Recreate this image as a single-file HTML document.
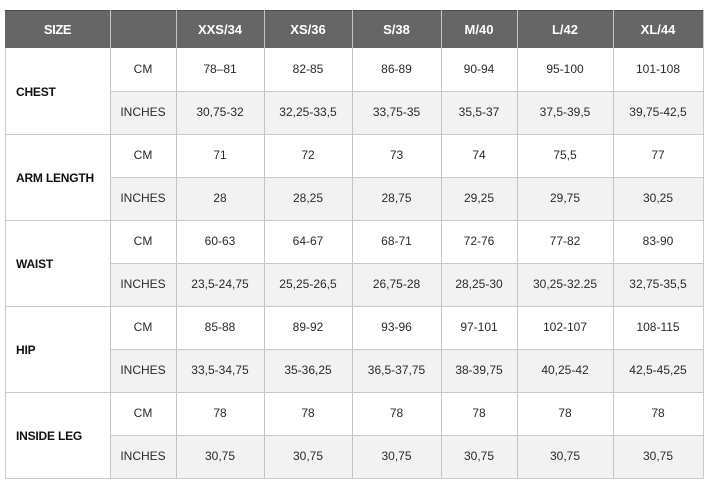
<!DOCTYPE html>
<html><head><meta charset="utf-8">
<style>
html,body{margin:0;padding:0;background:#fff;}
body{width:715px;height:487px;position:relative;overflow:hidden;font-family:"Liberation Sans",sans-serif;}
.hd{position:absolute;left:5px;top:10px;width:698px;height:38px;background:#666;border-top:1px solid #4a4a4a;box-sizing:border-box;}
.gray{position:absolute;left:110px;width:593px;height:43px;background:#f2f2f2;}
.vl{position:absolute;width:1px;background:#cacaca;}
.hl{position:absolute;height:1px;background:#cacaca;}
.ht{position:absolute;top:10px;height:38px;line-height:40px;text-align:center;color:#fff;font-weight:bold;font-size:13px;}
.c{position:absolute;height:43px;line-height:43px;text-align:center;color:#2a2a2a;font-size:12px;}
.lab{position:absolute;left:16px;font-weight:bold;font-size:12px;color:#111;line-height:16px;letter-spacing:-0.2px;}
</style></head><body>
<div class="hd"></div>
<div class="gray" style="top:92px"></div>
<div class="gray" style="top:178px"></div>
<div class="gray" style="top:264px"></div>
<div class="gray" style="top:350px"></div>
<div class="gray" style="top:436px"></div>

<!-- vertical lines -->
<div class="vl" style="left:5px;top:48px;height:431px"></div>
<div class="vl" style="left:110px;top:10px;height:469px;background:#c4c4c4"></div>
<div class="vl" style="left:176px;top:10px;height:469px;background:#c4c4c4"></div>
<div class="vl" style="left:264px;top:10px;height:469px;background:#c4c4c4"></div>
<div class="vl" style="left:352px;top:10px;height:469px;background:#c4c4c4"></div>
<div class="vl" style="left:441px;top:10px;height:469px;background:#c4c4c4"></div>
<div class="vl" style="left:517px;top:10px;height:469px;background:#c4c4c4"></div>
<div class="vl" style="left:613px;top:10px;height:469px;background:#c4c4c4"></div>
<div class="vl" style="left:703px;top:10px;height:469px"></div>

<!-- horizontal lines -->
<div class="hl" style="left:110px;width:594px;top:91px"></div>
<div class="hl" style="left:5px;width:699px;top:134px"></div>
<div class="hl" style="left:110px;width:594px;top:177px"></div>
<div class="hl" style="left:5px;width:699px;top:220px"></div>
<div class="hl" style="left:110px;width:594px;top:263px"></div>
<div class="hl" style="left:5px;width:699px;top:306px"></div>
<div class="hl" style="left:110px;width:594px;top:349px"></div>
<div class="hl" style="left:5px;width:699px;top:392px"></div>
<div class="hl" style="left:110px;width:594px;top:435px"></div>
<div class="hl" style="left:5px;width:699px;top:478px"></div>

<!-- header text -->
<div class="ht" style="left:5px;width:105px;letter-spacing:-0.4px">SIZE</div>
<div class="ht" style="left:176px;width:88px">XXS/34</div>
<div class="ht" style="left:264px;width:88px">XS/36</div>
<div class="ht" style="left:352px;width:89px">S/38</div>
<div class="ht" style="left:441px;width:76px">M/40</div>
<div class="ht" style="left:517px;width:96px">L/42</div>
<div class="ht" style="left:613px;width:90px">XL/44</div>

<!-- labels -->
<div class="lab" style="top:84px">CHEST</div>
<div class="lab" style="top:170px">ARM LENGTH</div>
<div class="lab" style="top:256px">WAIST</div>
<div class="lab" style="top:342px">HIP</div>
<div class="lab" style="top:428px">INSIDE LEG</div>

<!-- rows -->
<div style="position:absolute;left:0;top:48px;width:715px;height:43px">
<div class="c" style="left:110px;width:66px">CM</div>
<div class="c" style="left:176px;width:88px">78–81</div>
<div class="c" style="left:264px;width:88px">82-85</div>
<div class="c" style="left:352px;width:89px">86-89</div>
<div class="c" style="left:441px;width:76px">90-94</div>
<div class="c" style="left:517px;width:96px">95-100</div>
<div class="c" style="left:613px;width:90px">101-108</div>
</div>
<div style="position:absolute;left:0;top:91px;width:715px;height:43px">
<div class="c" style="left:110px;width:66px">INCHES</div>
<div class="c" style="left:176px;width:88px">30,75-32</div>
<div class="c" style="left:264px;width:88px">32,25-33,5</div>
<div class="c" style="left:352px;width:89px">33,75-35</div>
<div class="c" style="left:441px;width:76px">35,5-37</div>
<div class="c" style="left:517px;width:96px">37,5-39,5</div>
<div class="c" style="left:613px;width:90px">39,75-42,5</div>
</div>
<div style="position:absolute;left:0;top:134px;width:715px;height:43px">
<div class="c" style="left:110px;width:66px">CM</div>
<div class="c" style="left:176px;width:88px">71</div>
<div class="c" style="left:264px;width:88px">72</div>
<div class="c" style="left:352px;width:89px">73</div>
<div class="c" style="left:441px;width:76px">74</div>
<div class="c" style="left:517px;width:96px">75,5</div>
<div class="c" style="left:613px;width:90px">77</div>
</div>
<div style="position:absolute;left:0;top:177px;width:715px;height:43px">
<div class="c" style="left:110px;width:66px">INCHES</div>
<div class="c" style="left:176px;width:88px">28</div>
<div class="c" style="left:264px;width:88px">28,25</div>
<div class="c" style="left:352px;width:89px">28,75</div>
<div class="c" style="left:441px;width:76px">29,25</div>
<div class="c" style="left:517px;width:96px">29,75</div>
<div class="c" style="left:613px;width:90px">30,25</div>
</div>
<div style="position:absolute;left:0;top:220px;width:715px;height:43px">
<div class="c" style="left:110px;width:66px">CM</div>
<div class="c" style="left:176px;width:88px">60-63</div>
<div class="c" style="left:264px;width:88px">64-67</div>
<div class="c" style="left:352px;width:89px">68-71</div>
<div class="c" style="left:441px;width:76px">72-76</div>
<div class="c" style="left:517px;width:96px">77-82</div>
<div class="c" style="left:613px;width:90px">83-90</div>
</div>
<div style="position:absolute;left:0;top:263px;width:715px;height:43px">
<div class="c" style="left:110px;width:66px">INCHES</div>
<div class="c" style="left:176px;width:88px">23,5-24,75</div>
<div class="c" style="left:264px;width:88px">25,25-26,5</div>
<div class="c" style="left:352px;width:89px">26,75-28</div>
<div class="c" style="left:441px;width:76px">28,25-30</div>
<div class="c" style="left:517px;width:96px">30,25-32.25</div>
<div class="c" style="left:613px;width:90px">32,75-35,5</div>
</div>
<div style="position:absolute;left:0;top:306px;width:715px;height:43px">
<div class="c" style="left:110px;width:66px">CM</div>
<div class="c" style="left:176px;width:88px">85-88</div>
<div class="c" style="left:264px;width:88px">89-92</div>
<div class="c" style="left:352px;width:89px">93-96</div>
<div class="c" style="left:441px;width:76px">97-101</div>
<div class="c" style="left:517px;width:96px">102-107</div>
<div class="c" style="left:613px;width:90px">108-115</div>
</div>
<div style="position:absolute;left:0;top:349px;width:715px;height:43px">
<div class="c" style="left:110px;width:66px">INCHES</div>
<div class="c" style="left:176px;width:88px">33,5-34,75</div>
<div class="c" style="left:264px;width:88px">35-36,25</div>
<div class="c" style="left:352px;width:89px">36,5-37,75</div>
<div class="c" style="left:441px;width:76px">38-39,75</div>
<div class="c" style="left:517px;width:96px">40,25-42</div>
<div class="c" style="left:613px;width:90px">42,5-45,25</div>
</div>
<div style="position:absolute;left:0;top:392px;width:715px;height:43px">
<div class="c" style="left:110px;width:66px">CM</div>
<div class="c" style="left:176px;width:88px">78</div>
<div class="c" style="left:264px;width:88px">78</div>
<div class="c" style="left:352px;width:89px">78</div>
<div class="c" style="left:441px;width:76px">78</div>
<div class="c" style="left:517px;width:96px">78</div>
<div class="c" style="left:613px;width:90px">78</div>
</div>
<div style="position:absolute;left:0;top:435px;width:715px;height:43px">
<div class="c" style="left:110px;width:66px">INCHES</div>
<div class="c" style="left:176px;width:88px">30,75</div>
<div class="c" style="left:264px;width:88px">30,75</div>
<div class="c" style="left:352px;width:89px">30,75</div>
<div class="c" style="left:441px;width:76px">30,75</div>
<div class="c" style="left:517px;width:96px">30,75</div>
<div class="c" style="left:613px;width:90px">30,75</div>
</div>
</body></html>
